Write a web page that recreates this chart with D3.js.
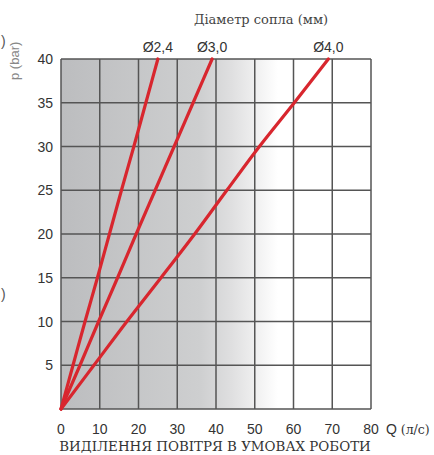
<!DOCTYPE html>
<html>
<head>
<meta charset="utf-8">
<script src="https://cdn.jsdelivr.net/npm/d3@7"></script>
<style>
  body { margin: 0; background: #fff; }
  svg { display: block; }
  .sans { font-family: "Liberation Sans", Arial, sans-serif; }
  .serif { font-family: "DejaVu Serif", "Liberation Serif", serif; }
</style>
</head>
<body>
<div id="chart"></div>
<script>
// pressure p (bar) and air flow Q (l/s) for each nozzle diameter
var pressures = [0, 5, 10, 15, 20, 25, 30, 35, 40];
var flowD24 = [0, 3.1, 6.2, 9.4, 12.5, 15.6, 18.8, 21.9, 25];
var flowD30 = [0, 4.9, 9.7, 14.6, 19.4, 24.3, 29.2, 34.1, 39];
var flowD40 = [0, 8.5, 17, 25.8, 34.5, 42.8, 51.2, 60.2, 69];
var seriesNames = ["Ø2,4", "Ø3,0", "Ø4,0"];
var xTicks = [0, 10, 20, 30, 40, 50, 60, 70, 80];
var yTicks = [5, 10, 15, 20, 25, 30, 35, 40];

var width = 434, height = 455;
var margin = {left: 61, right: 63, top: 59, bottom: 46};

var svg = d3.select("#chart").append("svg")
    .attr("width", width)
    .attr("height", height);

var x = d3.scaleLinear().domain([0, 80]).range([margin.left, width - margin.right]);
var y = d3.scaleLinear().domain([0, 40]).range([height - margin.bottom, margin.top]);

// background gradient
var grad = svg.append("defs").append("linearGradient")
    .attr("id", "bg")
    .attr("x1", "0%").attr("x2", "100%").attr("y1", "0%").attr("y2", "0%");
grad.append("stop").attr("offset", "0%").attr("stop-color", "#bcbdbf");
grad.append("stop").attr("offset", "45%").attr("stop-color", "#cecfd0");
grad.append("stop").attr("offset", "55%").attr("stop-color", "#dfdfe0");
grad.append("stop").attr("offset", "70%").attr("stop-color", "#ffffff");
grad.append("stop").attr("offset", "100%").attr("stop-color", "#ffffff");

svg.append("rect")
    .attr("x", x(0)).attr("y", y(40))
    .attr("width", x(80) - x(0)).attr("height", y(0) - y(40))
    .attr("fill", "url(#bg)");

// grid
var grid = svg.append("g").attr("stroke", "#555").attr("stroke-width", 1.5);
grid.selectAll(".v").data(xTicks).enter().append("line")
    .attr("x1", function (d) { return x(d); })
    .attr("x2", function (d) { return x(d); })
    .attr("y1", y(0)).attr("y2", y(40));
grid.selectAll(".h").data([0].concat(yTicks)).enter().append("line")
    .attr("x1", x(0)).attr("x2", x(80))
    .attr("y1", function (d) { return y(d); })
    .attr("y2", function (d) { return y(d); });

// curves
var flows = [flowD24, flowD30, flowD40];
var line = d3.line()
    .x(function (d) { return x(d[0]); })
    .y(function (d) { return y(d[1]); })
    .curve(d3.curveMonotoneY);

for (var i = 0; i < flows.length; i++) {
    var pts = pressures.map(function (p, j) { return [flows[i][j], p]; });
    svg.append("path")
        .datum(pts)
        .attr("d", line)
        .attr("fill", "none")
        .attr("stroke", "#d8262e")
        .attr("stroke-width", 3.2)
        .attr("stroke-linecap", "round");
    svg.append("text")
        .attr("class", "sans")
        .attr("x", x(flows[i][flows[i].length - 1]))
        .attr("y", 52)
        .attr("text-anchor", "middle")
        .attr("font-size", "14px")
        .attr("fill", "#333")
        .text(seriesNames[i]);
}

// tick labels
svg.selectAll(".xl").data(xTicks).enter().append("text")
    .attr("class", "sans")
    .attr("x", function (d) { return x(d); })
    .attr("y", 434)
    .attr("text-anchor", "middle")
    .attr("font-size", "14px")
    .attr("fill", "#333")
    .text(function (d) { return d; });

svg.selectAll(".yl").data(yTicks).enter().append("text")
    .attr("class", "sans")
    .attr("x", 53)
    .attr("y", function (d) { return y(d) + 5; })
    .attr("text-anchor", "end")
    .attr("font-size", "14px")
    .attr("fill", "#333")
    .text(function (d) { return d; });

// axis titles
var qLabel = svg.append("text")
    .attr("x", 386).attr("y", 434)
    .attr("font-size", "14px")
    .attr("fill", "#333");
qLabel.append("tspan").attr("class", "sans").text("Q ");
qLabel.append("tspan").attr("class", "serif").attr("font-size", "12.5px").text("(л/с)");

svg.append("text")
    .attr("class", "sans")
    .attr("transform", "translate(19,80)rotate(-90)")
    .attr("font-size", "13px")
    .attr("fill", "#888")
    .text("p (bar)");

// edge fragments of neighbouring labels
svg.append("text")
    .attr("class", "sans")
    .attr("x", 1).attr("y", 46)
    .attr("font-size", "14px")
    .attr("fill", "#555")
    .text(")");
svg.append("text")
    .attr("class", "sans")
    .attr("x", 1).attr("y", 299)
    .attr("font-size", "14px")
    .attr("fill", "#555")
    .text(")");

svg.append("text")
    .attr("class", "serif")
    .attr("x", 261).attr("y", 24)
    .attr("text-anchor", "middle")
    .attr("font-size", "13px")
    .attr("fill", "#444")
    .text("Діаметр сопла (мм)");

svg.append("text")
    .attr("class", "serif")
    .attr("x", 215).attr("y", 451)
    .attr("text-anchor", "middle")
    .attr("font-size", "13.4px")
    .attr("fill", "#333")
    .text("ВИДІЛЕННЯ ПОВІТРЯ В УМОВАХ РОБОТИ");
</script>
</body>
</html>
